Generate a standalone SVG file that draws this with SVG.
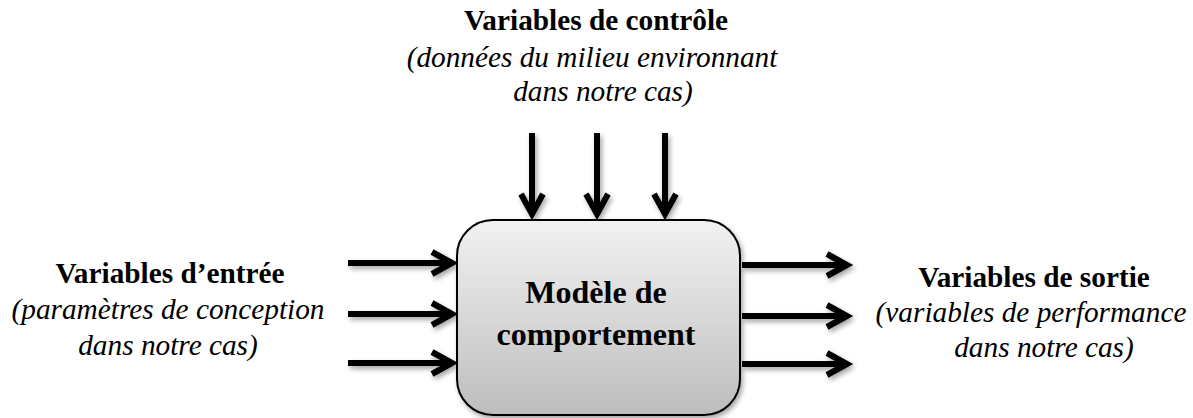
<svg xmlns="http://www.w3.org/2000/svg" width="1193" height="418" viewBox="0 0 1193 418">
<style>
.arr{fill:none;stroke:#000;stroke-width:6}
.lbl{fill:#000;text-anchor:middle}
</style>
<defs>
<linearGradient id="g" x1="0" y1="0" x2="0" y2="1">
<stop offset="0" stop-color="#f2f2f2"/>
<stop offset="1" stop-color="#bdbdbd"/>
</linearGradient>
<filter id="sh" x="-10%" y="-10%" width="130%" height="130%">
<feDropShadow dx="2" dy="3" stdDeviation="2.5" flood-color="#000" flood-opacity="0.35"/>
</filter>
<marker id="ah" viewBox="0 0 12 14" refX="10" refY="7" markerWidth="12" markerHeight="14" markerUnits="userSpaceOnUse" orient="auto" overflow="visible">
<path d="M-10,-4 L10,7 L-10,18" fill="none" stroke="#000" stroke-width="6"/>
</marker>
</defs>
<g id="connectors" filter="url(#sh)">
<g id="inputs">
<line class="arr" x1="348" y1="263" x2="452" y2="263" marker-end="url(#ah)"/>
<line class="arr" x1="348" y1="314" x2="452" y2="314" marker-end="url(#ah)"/>
<line class="arr" x1="348" y1="363" x2="452" y2="363" marker-end="url(#ah)"/>
</g>
<g id="controls">
<line class="arr" x1="532" y1="133" x2="532" y2="214" marker-end="url(#ah)"/>
<line class="arr" x1="597" y1="133" x2="597" y2="214" marker-end="url(#ah)"/>
<line class="arr" x1="665" y1="133" x2="665" y2="214" marker-end="url(#ah)"/>
</g>
<g id="outputs">
<line class="arr" x1="742" y1="265" x2="847" y2="265" marker-end="url(#ah)"/>
<line class="arr" x1="742" y1="316" x2="847" y2="316" marker-end="url(#ah)"/>
<line class="arr" x1="742" y1="364" x2="847" y2="364" marker-end="url(#ah)"/>
</g>
</g>
<g id="model">
<rect x="457" y="220" width="283" height="195" rx="36" ry="36" fill="url(#g)" stroke="#000" stroke-width="2" filter="url(#sh)"/>
<g class="lbl" font-family="Liberation Serif, Times New Roman, serif" font-size="32" font-weight="bold">
<text x="596" y="303">Modèle de</text>
<text x="596" y="345">comportement</text>
</g>
</g>
<g id="control-label" class="lbl" font-family="Liberation Serif, Times New Roman, serif" font-size="29.3">
<text x="596" y="30" font-weight="bold">Variables de contrôle</text>
<text x="592" y="67" font-style="italic">(données du milieu environnant</text>
<text x="603" y="101" font-style="italic">dans notre cas)</text>
</g>
<g id="input-label" class="lbl" font-family="Liberation Serif, Times New Roman, serif" font-size="29.3">
<text x="170" y="283" font-weight="bold">Variables d’entrée</text>
<text x="168" y="319" font-style="italic">(paramètres de conception</text>
<text x="168" y="355" font-style="italic">dans notre cas)</text>
</g>
<g id="output-label" class="lbl" font-family="Liberation Serif, Times New Roman, serif" font-size="29.3">
<text x="1034" y="287" font-weight="bold">Variables de sortie</text>
<text x="1031" y="322" font-style="italic">(variables de performance</text>
<text x="1044" y="357" font-style="italic">dans notre cas)</text>
</g>
</svg>
